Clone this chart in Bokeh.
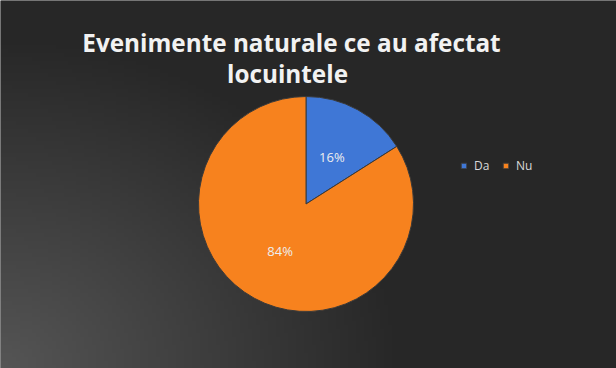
import numpy as np
from bokeh.plotting import figure
from bokeh.models import Range1d, Legend, LegendItem, ColumnDataSource
from bokeh.embed import file_html
from bokeh.resources import INLINE

# ---- data ----
categories = ["Da", "Nu"]
values = [16, 84]
colors = ["#3F77D6", "#F7821E"]
labels = ["16%", "84%"]
title_lines = ["Evenimente naturale ce au afectat", "locuintele"]

W, H = 616, 368
p = figure(width=W, height=H, output_backend="svg", toolbar_location=None,
           x_range=Range1d(0, W), y_range=Range1d(0, H), min_border=0)
p.axis.visible = False
p.grid.visible = False
p.outline_line_color = None
p.background_fill_color = "#262626"
p.border_fill_color = "#262626"

# background radial gradient (bottom-left lighter)
ny, nx = 92, 154
yy, xx = np.mgrid[0:ny, 0:nx]
px = xx * (W / nx)
py = yy * (H / ny)  # y from bottom
d = np.sqrt((px * 0.95) ** 2 + (py * 1.15) ** 2)
t = np.clip(d / 380.0, 0, 1)
c = (0x55 * (1 - t) + 0x27 * t).astype(np.uint32)
img = (255 << 24) | (c << 16) | (c << 8) | c
p.image_rgba(image=[img.astype(np.uint32)], x=0, y=0, dw=W, dh=H)

# pie
cx, cy, r = 305.5, H - 203.5, 107.5
vals = np.array(values, dtype=float)
frac = vals / vals.sum()
ends = np.pi / 2 - 2 * np.pi * np.concatenate([[0], np.cumsum(frac)[:-1]])
starts = ends - 2 * np.pi * frac
mids = (starts + ends) / 2
src = ColumnDataSource(dict(cat=categories, lx=cx + r * 0.5 * np.cos(mids),
                            ly=cy + r * 0.5 * np.sin(mids), lab=labels))
rends = []
for i in range(len(categories)):
    rr = p.wedge(x=cx, y=cy, radius=r, start_angle=starts[i], end_angle=ends[i],
                 fill_color=colors[i], line_color="#3a3a3a", line_width=1)
    rends.append(rr)

p.text(x="lx", y="ly", text="lab", source=src, text_color="#eeeeee",
       text_font_size="13px", text_align="center", text_baseline="middle",
       text_font={"value": "Open Sans"})

legend = Legend(items=[LegendItem(label=categories[i], renderers=[rends[i]]) for i in range(len(categories))],
                orientation="horizontal", location=(460, H - 174),
                background_fill_alpha=0, border_line_color=None,
                label_text_color="#d9d9d9", label_text_font_size="12px",
                label_text_font="Open Sans", glyph_width=7, glyph_height=7,
                spacing=8, label_standoff=7, padding=0, margin=0)
p.add_layout(legend, "center")

# title
p.text(x=[291, 287], y=[H - 42, H - 73], text=title_lines,
       text_color="#f2f2f2", text_font_size="24.3px", text_font_style="bold",
       text_align="center", text_baseline="alphabetic",
       text_font={"value": "Open Sans"})

open("out.html", "w").write(file_html(p, INLINE))
